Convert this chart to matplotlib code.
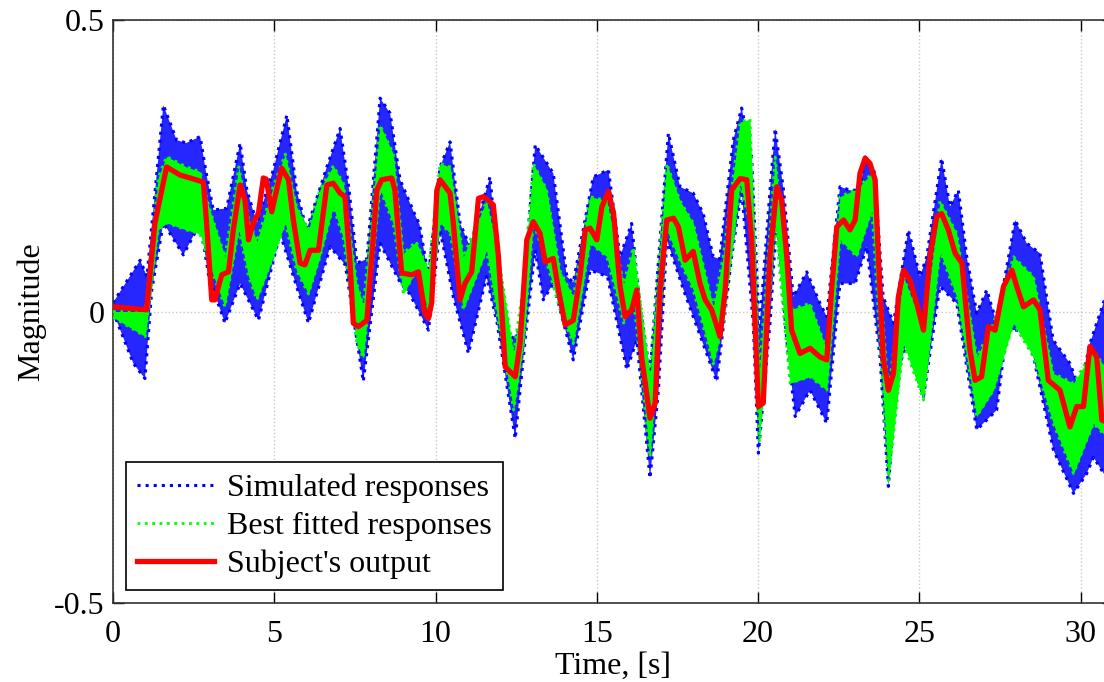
import numpy as np
import matplotlib
matplotlib.use("Agg")
import matplotlib.pyplot as plt

plt.rcParams["font.family"] = ["Liberation Serif", "DejaVu Serif"]
plt.rcParams["font.size"] = 23

# subject's output (red)
t_red = [0.0, 1.04, 1.30, 1.66, 2.08, 2.39, 2.80, 2.90, 3.06, 3.16, 3.37, 3.58, 3.73, 3.94,
         4.09, 4.20, 4.35, 4.51, 4.66, 4.75, 4.92, 5.07, 5.23, 5.44, 5.59, 5.80, 5.95, 6.11,
         6.37, 6.63, 6.83, 7.04, 7.19, 7.35, 7.45, 7.61, 7.87, 8.02, 8.18, 8.33, 8.64, 8.74,
         8.95, 9.26, 9.47, 9.67, 9.78, 9.88, 10.04, 10.14, 10.45, 10.55, 10.76, 10.91, 11.12,
         11.33, 11.49, 11.79, 11.95, 12.16, 12.47, 12.62, 12.83, 13.03, 13.24, 13.40, 13.65,
         13.81, 14.02, 14.27, 14.48, 14.64, 14.79, 15.00, 15.16, 15.36, 15.52, 15.72, 15.88,
         16.08, 16.24, 16.39, 16.65, 16.81, 16.96, 17.17, 17.38, 17.53, 17.74, 17.99, 18.20,
         18.36, 18.56, 18.82, 18.98, 19.18, 19.44, 19.65, 19.80, 20.01, 20.16, 20.37, 20.58,
         20.73, 20.89, 21.04, 21.30, 21.61, 21.92, 22.13, 22.28, 22.44, 22.65, 22.85, 23.01,
         23.16, 23.32, 23.47, 23.63, 23.73, 23.88, 24.04, 24.20, 24.35, 24.51, 24.71, 24.92,
         25.13, 25.33, 25.54, 25.69, 25.90, 26.11, 26.32, 26.57, 26.73, 26.93, 27.14, 27.35,
         27.61, 27.87, 28.02, 28.23, 28.54, 28.74, 29.00, 29.36, 29.67, 29.88, 30.09, 30.29,
         30.50, 30.66, 30.80]
red = [0.008, 0.003, 0.152, 0.248, 0.234, 0.229, 0.222, 0.152, 0.020, 0.020, 0.063, 0.068,
       0.140, 0.217, 0.191, 0.123, 0.152, 0.169, 0.229, 0.227, 0.171, 0.208, 0.246, 0.226,
       0.157, 0.083, 0.080, 0.105, 0.105, 0.217, 0.220, 0.203, 0.197, 0.083, -0.020, -0.026,
       -0.015, 0.094, 0.208, 0.226, 0.229, 0.208, 0.066, 0.063, 0.068, -0.003, -0.012, 0.015,
       0.208, 0.226, 0.203, 0.152, 0.020, 0.048, 0.068, 0.194, 0.197, 0.183, 0.094, -0.095,
       -0.112, -0.055, 0.123, 0.154, 0.134, 0.085, 0.091, 0.037, -0.023, -0.015, 0.060, 0.140,
       0.143, 0.123, 0.180, 0.206, 0.168, 0.043, -0.009, 0.003, 0.037, -0.078, -0.183, -0.157,
       0.037, 0.157, 0.160, 0.145, 0.088, 0.103, 0.048, 0.020, 0.003, -0.043, 0.037, 0.208,
       0.228, 0.226, 0.123, -0.163, -0.157, 0.094, 0.214, 0.191, 0.094, -0.032, -0.072, -0.063,
       -0.078, -0.083, 0.037, 0.145, 0.157, 0.140, 0.157, 0.237, 0.263, 0.254, 0.226, 0.094,
       -0.078, -0.135, -0.106, 0.025, 0.071, 0.054, 0.014, -0.032, 0.094, 0.163, 0.168, 0.140,
       0.100, 0.083, -0.066, -0.118, -0.112, -0.026, -0.032, 0.043, 0.071, 0.043, 0.008, 0.020,
       0.003, -0.118, -0.135, -0.198, -0.163, -0.163, -0.060, -0.078, -0.186, -0.190]

# simulated responses (blue), upper and lower envelope
t_blue_hi = [0.0, 0.84, 1.05, 1.56, 1.97, 2.27, 2.70, 2.89, 3.11, 3.52, 3.94, 4.15, 4.46, 4.97,
             5.39, 5.69, 6.00, 6.63, 7.04, 7.32, 7.56, 7.87, 8.28, 8.59, 8.90, 9.36, 9.50, 9.78,
             10.14, 10.45, 10.76, 11.07, 11.69, 11.91, 12.31, 12.62, 13.09, 13.65, 14.07, 14.27,
             14.89, 15.36, 15.72, 16.08, 16.34, 16.65, 16.96, 17.22, 17.58, 17.99, 18.30, 18.61,
             18.81, 19.23, 19.49, 19.80, 20.04, 20.37, 20.53, 20.79, 21.09, 21.51, 21.92, 22.13,
             22.54, 22.85, 23.16, 23.32, 23.60, 23.88, 24.20, 24.66, 25.02, 25.23, 25.69, 25.95,
             26.21, 26.47, 26.78, 27.09, 27.40, 27.97, 28.33, 28.74, 29.15, 29.67, 29.98, 30.29,
             30.80]
blue_hi = [0.015, 0.088, 0.060, 0.354, 0.294, 0.289, 0.300, 0.237, 0.174, 0.177, 0.289, 0.208,
           0.152, 0.243, 0.337, 0.208, 0.140, 0.248, 0.314, 0.208, 0.083, 0.090, 0.366, 0.340,
           0.226, 0.166, 0.150, 0.060, 0.248, 0.291, 0.151, 0.111, 0.231, 0.094, -0.049, -0.032,
           0.286, 0.237, 0.060, 0.050, 0.231, 0.243, 0.094, 0.151, 0.008, -0.106, 0.123, 0.306,
           0.214, 0.203, 0.168, 0.094, 0.090, 0.294, 0.349, 0.266, -0.032, 0.208, 0.314, 0.208,
           0.025, 0.068, 0.014, -0.009, 0.214, 0.208, 0.208, 0.265, 0.240, 0.025, -0.020, 0.140,
           0.060, 0.094, 0.263, 0.180, 0.208, 0.094, -0.003, 0.037, -0.020, 0.157, 0.117, 0.100,
           -0.049, -0.089, -0.135, -0.055, 0.030]
t_blue_lo = [0.0, 0.63, 0.99, 1.20, 1.56, 2.18, 2.70, 2.97, 3.47, 3.94, 4.51, 5.18, 5.69, 6.06,
             6.73, 7.20, 7.76, 8.28, 8.90, 9.20, 9.78, 10.04, 10.14, 10.55, 11.02, 11.58, 11.91,
             12.47, 12.83, 13.09, 13.34, 13.65, 14.27, 14.79, 15.33, 15.93, 16.24, 16.65, 16.91,
             17.17, 17.69, 17.99, 18.72, 19.18, 19.49, 19.85, 20.01, 20.37, 20.58, 20.89, 21.15,
             21.61, 22.13, 22.54, 23.01, 23.37, 23.78, 24.04, 24.30, 24.61, 25.13, 25.64, 26.16,
             26.78, 27.40, 27.71, 28.23, 28.54, 29.16, 29.78, 30.19, 30.40, 30.80]
blue_lo = [0.000, -0.089, -0.115, 0.037, 0.152, 0.097, 0.152, 0.060, -0.020, 0.048, -0.015,
           0.134, 0.043, -0.020, 0.111, 0.080, -0.120, 0.117, 0.050, 0.030, -0.032, 0.094,
           0.140, 0.025, -0.072, 0.060, -0.020, -0.218, -0.020, 0.105, 0.020, 0.048, -0.083,
           0.071, 0.060, -0.100, -0.049, -0.286, -0.135, 0.123, 0.037, -0.009, -0.120, 0.094,
           0.208, -0.020, -0.243, -0.020, 0.163, -0.049, -0.180, -0.135, -0.192, 0.048, 0.048,
           0.111, -0.078, -0.300, -0.106, -0.055, -0.146, 0.043, 0.014, -0.203, -0.169, -0.032,
           -0.032, -0.078, -0.238, -0.312, -0.278, -0.250, -0.285]

# best fitted responses (green), band limits
t_green = [0.0, 1.00, 1.40, 1.66, 2.27, 2.70, 2.97, 3.47, 3.90, 4.20, 4.46, 4.97, 5.34, 5.69,
           6.06, 6.42, 6.83, 7.14, 7.56, 7.76, 8.28, 8.69, 9.00, 9.40, 9.78, 10.14, 10.45,
           10.86, 11.58, 11.95, 12.42, 12.73, 13.03, 13.44, 13.86, 14.27, 14.79, 15.31, 15.83,
           16.13, 16.65, 17.17, 17.58, 17.99, 18.61, 18.92, 19.44, 19.75, 20.04, 20.53, 20.99,
           21.61, 22.13, 22.54, 23.06, 23.53, 24.04, 24.51, 25.13, 25.64, 26.16, 26.78, 27.30,
           27.92, 28.54, 29.15, 29.78, 30.40, 30.80]
green_hi = [0.000, 0.000, 0.230, 0.266, 0.248, 0.240, 0.180, 0.094, 0.248, 0.160, 0.120, 0.215,
            0.270, 0.180, 0.140, 0.210, 0.250, 0.220, 0.048, 0.010, 0.320, 0.270, 0.100, 0.120,
            0.070, 0.254, 0.248, 0.094, 0.190, 0.094, -0.072, 0.048, 0.254, 0.210, 0.070, 0.025,
            0.197, 0.190, 0.048, 0.110, -0.112, 0.254, 0.190, 0.152, 0.008, 0.094, 0.325, 0.330,
            -0.106, 0.265, 0.003, 0.014, -0.066, 0.197, 0.210, 0.237, -0.135, 0.060, -0.032,
            0.190, 0.134, -0.078, -0.020, 0.094, 0.060, -0.106, -0.123, -0.066, -0.100]
green_lo = [-0.010, -0.043, 0.140, 0.152, 0.140, 0.133, 0.083, 0.008, 0.140, 0.060, 0.020,
            0.094, 0.152, 0.070, 0.030, 0.094, 0.180, 0.125, -0.055, -0.080, 0.210, 0.150, 0.030,
            0.070, 0.000, 0.152, 0.134, 0.003, 0.105, -0.020, -0.169, -0.055, 0.152, 0.085, 0.003,
            -0.055, 0.117, 0.094, -0.020, 0.025, -0.250, 0.140, 0.085, 0.037, -0.090, -0.020,
            0.220, 0.150, -0.225, 0.152, -0.123, -0.112, -0.135, 0.123, 0.094, 0.174, -0.290,
            -0.055, -0.152, 0.103, 0.025, -0.180, -0.135, -0.020, -0.078, -0.192, -0.278, -0.192,
            -0.215]

fig = plt.figure(figsize=(11.04, 6.82), dpi=100)
ax = fig.add_axes([0.1024, 0.1158, 0.9056, 0.8549])

blue = "#0000ff"
green = "#00ff00"
red_c = "#ff0000"

ax.fill(np.r_[t_blue_hi, t_blue_lo[::-1]], np.r_[blue_hi, blue_lo[::-1]],
        color=blue, alpha=0.85, lw=0, zorder=2)
ax.plot(t_blue_hi, blue_hi, ":", color=blue, lw=2.2, zorder=2, label="Simulated responses")
ax.plot(t_blue_lo, blue_lo, ":", color=blue, lw=2.2, zorder=2)

ax.fill_between(t_green, green_lo, green_hi, color=green, lw=0, zorder=3)
ax.plot(t_green, green_hi, ":", color=green, lw=2, zorder=3, label="Best fitted responses")
ax.plot(t_green, green_lo, ":", color=green, lw=2, zorder=3)

ax.plot(t_red, red, "-", color=red_c, lw=3.8, zorder=4, label="Subject's output")

ax.set_xlim(0, 31)
ax.set_ylim(-0.5, 0.5)
ax.set_xticks([0, 5, 10, 15, 20, 25, 30])
ax.set_yticks([-0.5, 0, 0.5])
ax.set_yticklabels(["-0.5", "0", "0.5"])
ax.tick_params(direction="in", length=8, width=1, top=True, right=True)
ax.tick_params(axis="x", pad=12)
ax.tick_params(axis="y", pad=6)
ax.grid(True, color="#c8c8c8", linestyle=":", linewidth=1)
for s in ax.spines.values():
    s.set_color("#333333")
    s.set_linewidth(1.2)

ax.set_xlabel("Time, [s]", labelpad=2)
ax.set_ylabel("Magnitude", labelpad=6)

leg = ax.legend(loc="lower left", bbox_to_anchor=(0.013, 0.022), borderaxespad=0,
                fancybox=False, edgecolor="black", framealpha=1, handlelength=2.4,
                handletextpad=0.4, labelspacing=0.27, borderpad=0.35, fontsize=23)
leg.get_frame().set_linewidth(1.2)

fig.savefig("out.png", dpi=100)
